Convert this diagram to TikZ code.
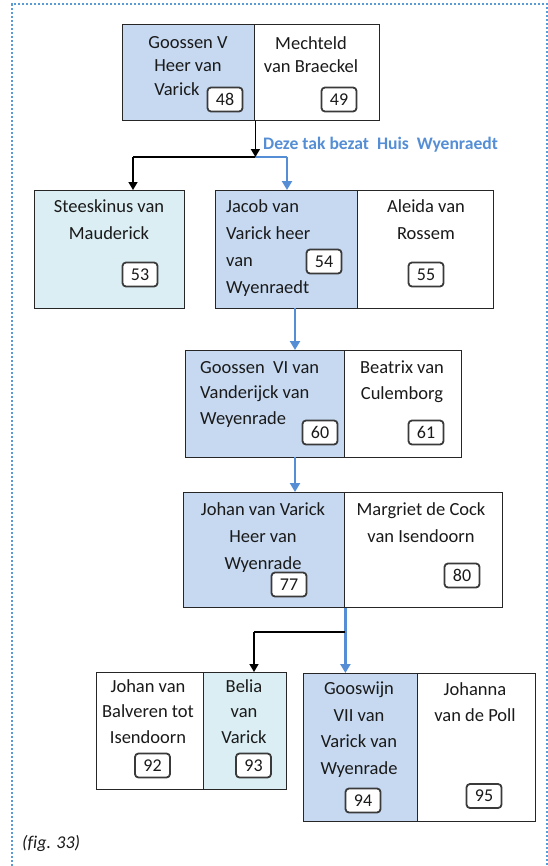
\documentclass[tikz,border=0pt]{standalone}
\usepackage{fontspec}
\setmainfont{Carlito}
\usetikzlibrary{arrows.meta}
\definecolor{cellblue}{HTML}{C6D9F1}
\definecolor{cellcyan}{HTML}{DAEEF3}
\definecolor{linkblue}{HTML}{558ED5}
\definecolor{frameblue}{HTML}{5B9BD5}
\definecolor{numgray}{HTML}{3A3A3A}
\definecolor{txtcol}{HTML}{1A1A1A}
\tikzset{
  cell/.style={draw=black!85, line width=1.4bp, inner sep=0, anchor=north west},
  bluecell/.style={cell, fill=cellblue},
  cyancell/.style={cell, fill=cellcyan},
  whitecell/.style={cell, fill=white},
  numbox/.style={draw=numgray, line width=1.8bp, rounded corners=3.5bp, fill=white,
    minimum width=35bp, minimum height=24bp, inner sep=0, text=txtcol,
    font=\fontsize{18bp}{20bp}\selectfont},
  txt/.style={inner sep=0, text=txtcol, align=center, anchor=north},
  txtl/.style={inner sep=0, text=txtcol, align=left, anchor=north west},
  fsA/.style={font=\fontsize{18.5bp}{23.5bp}\selectfont},
  fsB/.style={font=\fontsize{18.5bp}{27bp}\selectfont},
  fsC/.style={font=\fontsize{18.5bp}{25.5bp}\selectfont},
  fsD/.style={font=\fontsize{18.5bp}{26.5bp}\selectfont},
  blackarrow/.style={draw=black, line width=1.5bp, -{Triangle[width=9bp,length=8bp]}},
  blackline/.style={draw=black, line width=1.5bp},
  bluearrow/.style={draw=linkblue, line width=2.6bp, -{Triangle[width=10bp,length=9bp]}},
  blueline/.style={draw=linkblue, line width=2.6bp},
}
\begin{document}
\begin{tikzpicture}[x=1bp,y=-1bp]
\useasboundingbox (0,0) rectangle (548,866);
% dotted frame
\draw[frameblue, line width=2.2bp, dash pattern=on 2.2bp off 1.8bp] (12,866) -- (12,4) -- (547,4) -- (547,866);

% ---- row 1 ----
\node[bluecell, minimum width=132bp, minimum height=96bp] (c48) at (122,24) {};
\node[whitecell, minimum width=125bp, minimum height=96bp] (c49) at (254,24) {};
\node[txt, fsA] (t48) at (188,36) {Goossen V\\Heer van\\Varick\hspace*{22bp}};
\node[txt, fsA] (t49) at (311,36) {Mechteld\\van Braeckel};
\node[numbox] (n48) at (225,99.5) {48};
\node[numbox] (n49) at (339,99.5) {49};

% ---- row 2 ----
\node[cyancell, minimum width=150bp, minimum height=118bp] (c53) at (34,190) {};
\node[bluecell, minimum width=142bp, minimum height=118bp] (c54) at (215,190) {};
\node[whitecell, minimum width=136bp, minimum height=118bp] (c55) at (357,190) {};
\node[txt, fsB] (t53) at (109,199) {Steeskinus van\\Mauderick};
\node[txtl, fsB] (t54) at (226,199) {Jacob van\\Varick heer\\van\\Wyenraedt};
\node[txt, fsB] (t55) at (426,199) {Aleida van\\Rossem};
\node[numbox] (n53) at (140,274.5) {53};
\node[numbox] (n54) at (324,261.5) {54};
\node[numbox] (n55) at (426,274.5) {55};

% ---- row 3 ----
\node[bluecell, minimum width=159bp, minimum height=107bp] (c60) at (185,350) {};
\node[whitecell, minimum width=117bp, minimum height=107bp] (c61) at (344,350) {};
\node[txtl, fsC] (t60) at (200,361) {Goossen\ \ VI van\\Vanderijck van\\Weyenrade};
\node[txt, fsC] (t61) at (402,361) {Beatrix van\\Culemborg};
\node[numbox] (n60) at (320,432.5) {60};
\node[numbox] (n61) at (426,432.5) {61};

% ---- row 4 ----
\node[bluecell, minimum width=161bp, minimum height=115bp] (c77) at (183,492) {};
\node[whitecell, minimum width=158bp, minimum height=115bp] (c80) at (344,492) {};
\node[txt, fsB] (t77) at (263,502) {Johan van Varick\\Heer van\\Wyenrade};
\node[txt, fsB] (t80) at (421,502) {Margriet de Cock\\van Isendoorn};
\node[numbox] (n77) at (289,584.5) {77};
\node[numbox] (n80) at (462,575.5) {80};

% ---- row 5 ----
\node[whitecell, minimum width=107bp, minimum height=117bp] (c92) at (96,672) {};
\node[cyancell, minimum width=83bp, minimum height=117bp] (c93) at (203,672) {};
\node[txt, fsC] (t92) at (148,679) {Johan van\\Balveren tot\\Isendoorn};
\node[txt, fsC] (t93) at (244,679) {Belia\\van\\Varick};
\node[numbox] (n92) at (152.5,765.5) {92};
\node[numbox] (n93) at (253.5,765.5) {93};

\node[bluecell, minimum width=114bp, minimum height=148bp] (c94) at (303,673) {};
\node[whitecell, minimum width=118bp, minimum height=148bp] (c95) at (417,673) {};
\node[txt, fsD] (t94) at (359,682) {Gooswijn\\VII van\\Varick van\\Wyenrade};
\node[txt, fsD] (t95) at (475,682) {Johanna\\van de Poll};
\node[numbox] (n94) at (363,800.5) {94};
\node[numbox] (n95) at (484,796) {95};

% ---- connectors ----
\coordinate (j1) at (c48.south east |- 0,157);
\coordinate (k53) at (133,157);
\coordinate (k54) at (287,157);
\draw[blackline] (k53) -- (j1);
\draw[blueline] (j1) -- (k54);
\draw[blackarrow] (c48.south east) -- (j1);
\draw[blackarrow] (k53) -- (k53 |- c53.north);
\draw[bluearrow] (k54) -- (k54 |- c54.north);
\node[anchor=west, inner sep=0, text=linkblue, font=\bfseries\fontsize{17.6bp}{20bp}\selectfont] (lab) at (263,145) {Deze tak bezat\ \ Huis\ \ Wyenraedt};

\coordinate (k60) at (295,308);
\draw[bluearrow] (k60) -- (k60 |- c60.north);
\coordinate (k77) at (295,457);
\draw[bluearrow] (k77) -- (k77 |- c77.north);

\coordinate (j2) at (c77.south east |- 0,632);
\coordinate (k93) at (254,632);
\draw[bluearrow] (c77.south east) -- (c77.south east |- c94.north);
\draw[blackline] (j2) -- (k93);
\draw[blackarrow] (k93) -- (k93 |- c93.north);

% caption
\node[anchor=west, inner sep=0, text=txtcol, font=\itshape\fontsize{18bp}{20bp}\selectfont] (cap) at (22,843) {(f\kern0pt ig. 33)};
\end{tikzpicture}
\end{document}
